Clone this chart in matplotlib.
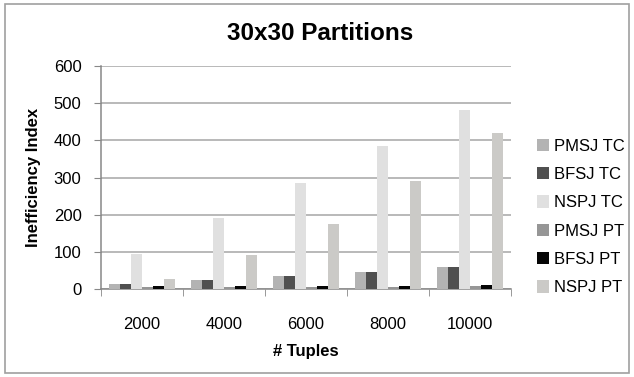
import numpy as np
import matplotlib.pyplot as plt
from matplotlib.patches import Rectangle

plt.rcParams['font.family'] = ['Liberation Sans', 'DejaVu Sans']

tuples = ['2000', '4000', '6000', '8000', '10000']
series = ['PMSJ TC', 'BFSJ TC', 'NSPJ TC', 'PMSJ PT', 'BFSJ PT', 'NSPJ PT']
pmsj_tc = [13, 24, 35, 46, 59]
bfsj_tc = [13, 24, 35, 46, 58]
nspj_tc = [94, 190, 286, 384, 482]
pmsj_pt = [5, 5, 5, 6, 8]
bfsj_pt = [9, 9, 9, 9, 10]
nspj_pt = [27, 92, 175, 291, 421]
colors = ['#b3b3b3', '#505050', '#e0e0e0', '#969696', '#050505', '#cbcac7']

values = [pmsj_tc, bfsj_tc, nspj_tc, pmsj_pt, bfsj_pt, nspj_pt]

fig = plt.figure(figsize=(6.34, 3.77), dpi=100)
ax = fig.add_axes([101/634, 1-289/377, 410/634, 223/377])

x = np.arange(len(tuples))
w = 1/7.5
for i, (vals, name, c) in enumerate(zip(values, series, colors)):
	ax.bar(x + (i - 2.5)*w, vals, w, color=c, label=name, zorder=3)

ax.set_xlim(-0.5, 4.5)
ax.set_ylim(0, 600)
ax.set_yticks(range(0, 601, 100))
ax.yaxis.grid(True, color='#a6a6a6', linewidth=1.1, zorder=0)
ax.set_xticks(x)
ax.set_xticklabels(tuples, fontsize=12)
ax.set_xticks(np.arange(-0.5, 5, 1), minor=True)
ax.tick_params(axis='x', which='major', length=0, pad=20)
ax.tick_params(axis='x', which='minor', length=5, color='#888888', direction='out')
ax.tick_params(axis='y', length=5, color='#888888', labelsize=12, pad=9)
for s in ['top', 'right']:
	ax.spines[s].set_visible(False)
for s in ['left', 'bottom']:
	ax.spines[s].set_color('#888888')
	ax.spines[s].set_linewidth(1.1)

ax.set_xlabel('# Tuples', fontsize=12, fontweight='bold', labelpad=9)
ax.set_ylabel('Inefficiency Index', fontsize=12, fontweight='bold', labelpad=9)
fig.text(320/634, 1-34/377, '30x30 Partitions', fontsize=17.5, fontweight='bold',
	ha='center', va='center')

ax.legend(loc='upper left', bbox_to_anchor=(530/634, 1-132/377),
	bbox_transform=fig.transFigure, frameon=False, fontsize=12,
	handlelength=0.75, handleheight=0.75, handletextpad=0.3,
	labelspacing=0.8, borderaxespad=0)

fig.add_artist(Rectangle((5/634, 4/377), 624/634, 369/377, transform=fig.transFigure,
	fill=False, edgecolor='#a0a0a0', linewidth=1.2))

fig.savefig('out.png', dpi=100)
